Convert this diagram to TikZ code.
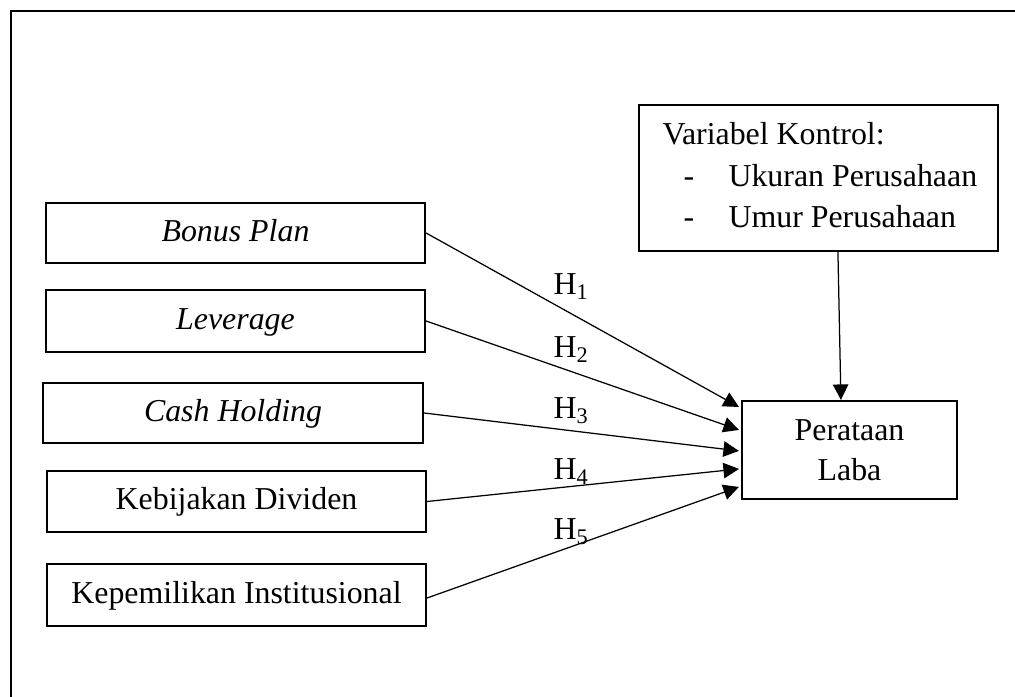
\documentclass[tikz,border=0pt]{standalone}
\usepackage{fontspec}
\setmainfont{Liberation Serif}
\usetikzlibrary{arrows.meta,calc}
\newcommand\pu[1]{#1*0.4pt}
\tikzset{
  box/.style={draw, line width=0.85pt, inner sep=0pt, text height=0.662em, text depth=0pt},
  conn/.style={line width=0.5pt, -{Triangle[length=6.2pt,width=6.2pt]}},
  lbl/.style={anchor=base west, inner sep=0pt},
  every node/.style={font=\fontsize{12.75}{16}\selectfont}
}
\begin{document}
\begin{tikzpicture}[x=0.4pt,y=-0.4pt]
\useasboundingbox (0,0) rectangle (1015,697);
% outer frame (continues beyond the page)
\draw[line width=0.85pt] (11,720) -- (11,11) -- (1040,11);
% left boxes
\node[box, minimum width=\pu{379}, minimum height=\pu{60}] (bp)  at (235.5,233)   {\textit{Bonus Plan}};
\node[box, minimum width=\pu{379}, minimum height=\pu{62}] (lev) at (235.5,321)   {\textit{Leverage}};
\node[box, minimum width=\pu{380}, minimum height=\pu{60}] (ch)  at (233,413)     {\textit{Cash Holding}};
\node[box, minimum width=\pu{379}, minimum height=\pu{61}] (kd)  at (236.5,501.5) {Kebijakan Dividen};
\node[box, minimum width=\pu{379}, minimum height=\pu{62}] (ki)  at (236.5,595)   {Kepemilikan Institusional};
% control box
\node[draw, line width=0.85pt, inner sep=0pt, minimum width=\pu{359}, minimum height=\pu{146}] (vk) at (818.5,178) {};
\node[lbl] (vkt) at (662,145) {Variabel Kontrol:};
\node[lbl] (d1) at (683,187) {-};
\node[lbl] (u1) at (728,187) {Ukuran Perusahaan};
\node[lbl] (d2) at (683,228) {-};
\node[lbl] (u2) at (728,228) {Umur Perusahaan};
% dependent
\node[draw, line width=0.85pt, inner sep=0pt, align=center, minimum width=\pu{215}, minimum height=\pu{98}] (pl) at (849.5,450) {Perataan\\Laba};
% connectors
\draw[conn] (bp.east) -- ($(pl.north west)+(-2,7)$);
\draw[conn] (lev.east) -- ($(pl.north west)+(-2,30)$);
\draw[conn] (ch.east) -- ($(pl.north west)+(-2,51)$);
\draw[conn] (kd.east) -- ($(pl.north west)+(-2,69)$);
\draw[conn] ($(ki.east)+(0,3)$) -- ($(pl.north west)+(-2,87)$);
\draw[conn] ($(vk.south west)+(200,0)$) -- ($(pl.north west)+(100,0)$);
% labels
\node[lbl] (h1) at (553,295) {H\textsubscript{1}};
\node[lbl] (h2) at (553,358) {H\textsubscript{2}};
\node[lbl] (h3) at (553,419) {H\textsubscript{3}};
\node[lbl] (h4) at (553,480) {H\textsubscript{4}};
\node[lbl] (h5) at (553,540) {H\textsubscript{5}};
\end{tikzpicture}
\end{document}
